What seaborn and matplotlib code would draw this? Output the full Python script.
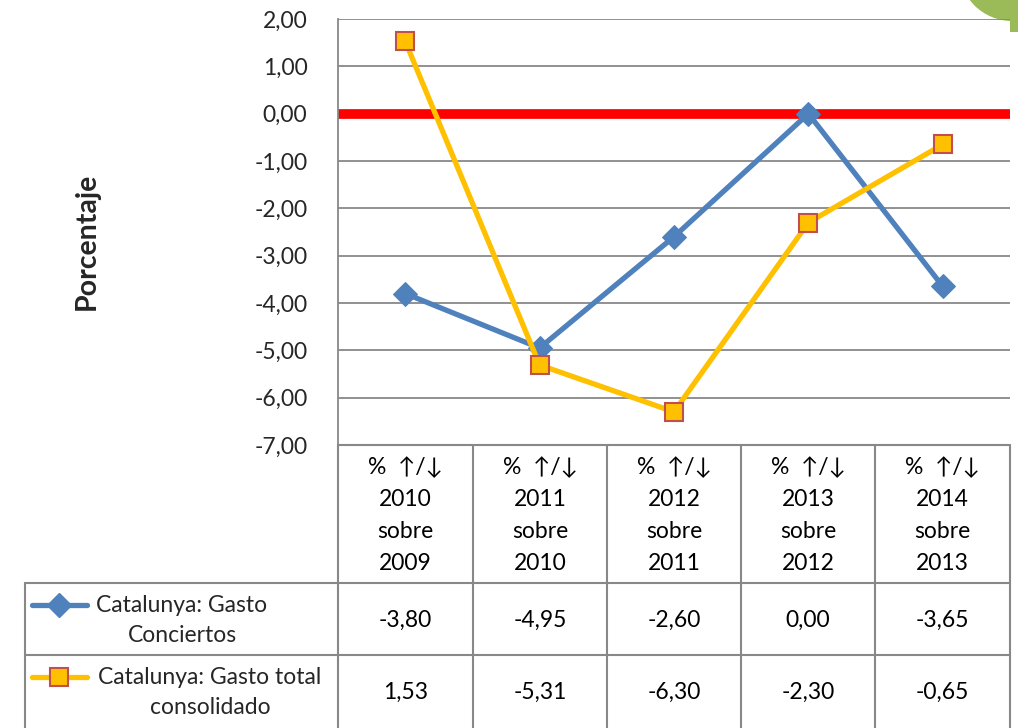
import matplotlib
matplotlib.use("Agg")
import matplotlib.pyplot as plt
from matplotlib.patches import Circle, Rectangle
import numpy as np
import pandas as pd
import seaborn as sns

# Data
periods = ["2010\nsobre\n2009", "2011\nsobre\n2010", "2012\nsobre\n2011",
           "2013\nsobre\n2012", "2014\nsobre\n2013"]
gasto_conciertos = [-3.80, -4.95, -2.60, 0.00, -3.65]
gasto_total = [1.53, -5.31, -6.30, -2.30, -0.65]
series_names = ["Catalunya: Gasto\nConciertos", "Catalunya: Gasto total\nconsolidado"]
y_ticks = [2, 1, 0, -1, -2, -3, -4, -5, -6, -7]

sns.set_theme(style="white")
plt.rcParams["font.family"] = ["Lato", "DejaVu Sans"]

BLUE = "#4F81BD"
ORANGE = "#FFC000"
EDGE_RED = "#C0504D"
GRID = "#888888"
FS = 16.5
LW = 3.8
W, H = 1018, 728


def fx(px):
    return px / W


def fy(py):
    return 1 - py / H


fig = plt.figure(figsize=(W / 100, H / 100), dpi=100)

# background decoration (corner badge)
bg = fig.add_axes([0, 0, 1, 1], zorder=0)
bg.set_xlim(0, W)
bg.set_ylim(H, 0)
bg.axis("off")
bg.add_patch(Circle((1012, -32), 53, color="#9BBB59", lw=0))
bg.add_patch(Rectangle((1010, 0), 10, 32, color="#9BBB59", lw=0))

# main chart
ax = fig.add_axes([fx(338), fy(445), fx(1010) - fx(338), fy(19) - fy(445)], zorder=1)
ax.patch.set_alpha(0)
df = pd.DataFrame({"pos": np.arange(len(periods)),
                   "conc": gasto_conciertos, "total": gasto_total})

for y in y_ticks:
    ax.axhline(y, color=GRID, lw=1.3, zorder=0)
ax.axhline(0, color="#FF0000", lw=7, zorder=1)

sns.lineplot(data=df, x="pos", y="conc", ax=ax, color=BLUE, lw=LW,
             marker="D", markersize=12, markeredgecolor=BLUE,
             markerfacecolor=BLUE, zorder=3)
sns.lineplot(data=df, x="pos", y="total", ax=ax, color=ORANGE, lw=LW,
             marker="s", markersize=13.5, markeredgecolor=EDGE_RED,
             markeredgewidth=1.5, markerfacecolor=ORANGE, zorder=4)

ax.set_xlim(-0.5, len(periods) - 0.5)
ax.set_ylim(-7, 2)
ax.set_yticks(y_ticks)
ax.set_yticklabels([f"{v:.2f}".replace(".", ",") for v in y_ticks], fontsize=FS)
ax.tick_params(axis="y", length=0, pad=22)
ax.set_xticks([])
ax.set_xlabel("")
ax.set_ylabel("Porcentaje", fontsize=20.5, fontweight="bold", labelpad=0)
axw = fx(1010) - fx(338)
ax.yaxis.set_label_coords((fx(100) - fx(338)) / axw, 0.478)
for s in ["top", "right", "bottom"]:
    ax.spines[s].set_visible(False)
ax.spines["left"].set_color(GRID)
ax.spines["left"].set_linewidth(1.3)

# data table below the chart
tb = fig.add_axes([0, 0, 1, 1], zorder=2)
tb.set_xlim(0, W)
tb.set_ylim(H, 0)
tb.axis("off")

col_edges = [338, 473, 607, 741, 875, 1010]
for x in col_edges:
    tb.plot([x, x], [445, H], color=GRID, lw=1.5)
tb.plot([25, 25], [583, H], color=GRID, lw=1.5)
tb.plot([338, 1010], [445, 445], color=GRID, lw=1.5)
for y in [583, 655]:
    tb.plot([25, 1010], [y, y], color=GRID, lw=1.5)

centers = [(a + b) / 2 for a, b in zip(col_edges[:-1], col_edges[1:])]
for cx, label in zip(centers, periods):
    lines = ["%  \u2191/\u2193"] + label.split("\n")
    for i, t in enumerate(lines):
        tb.text(cx, 467 + i * 32, t, ha="center", va="center", fontsize=FS,
                color="black")

row_y = [620, 692]
for ry, vals in zip(row_y, [gasto_conciertos, gasto_total]):
    for cx, v in zip(centers, vals):
        tb.text(cx, ry, f"{v:.2f}".replace(".", ","), ha="center", va="center",
                fontsize=FS, color="black")

# legend keys inside the table
tb.plot([32, 87], [605, 605], color=BLUE, lw=LW)
tb.plot([59], [605], marker="D", ms=12, color=BLUE)
tb.text(182, 605, series_names[0].split("\n")[0], ha="center", va="center",
        fontsize=FS)
tb.text(182, 636, series_names[0].split("\n")[1], ha="center", va="center",
        fontsize=FS)
tb.plot([32, 87], [677, 677], color=ORANGE, lw=LW)
tb.plot([59], [677], marker="s", ms=13.5, markerfacecolor=ORANGE,
        markeredgecolor=EDGE_RED, markeredgewidth=1.5)
tb.text(210, 677, series_names[1].split("\n")[0], ha="center", va="center",
        fontsize=FS)
tb.text(210, 708, series_names[1].split("\n")[1], ha="center", va="center",
        fontsize=FS)

fig.savefig("out.png", dpi=100)
